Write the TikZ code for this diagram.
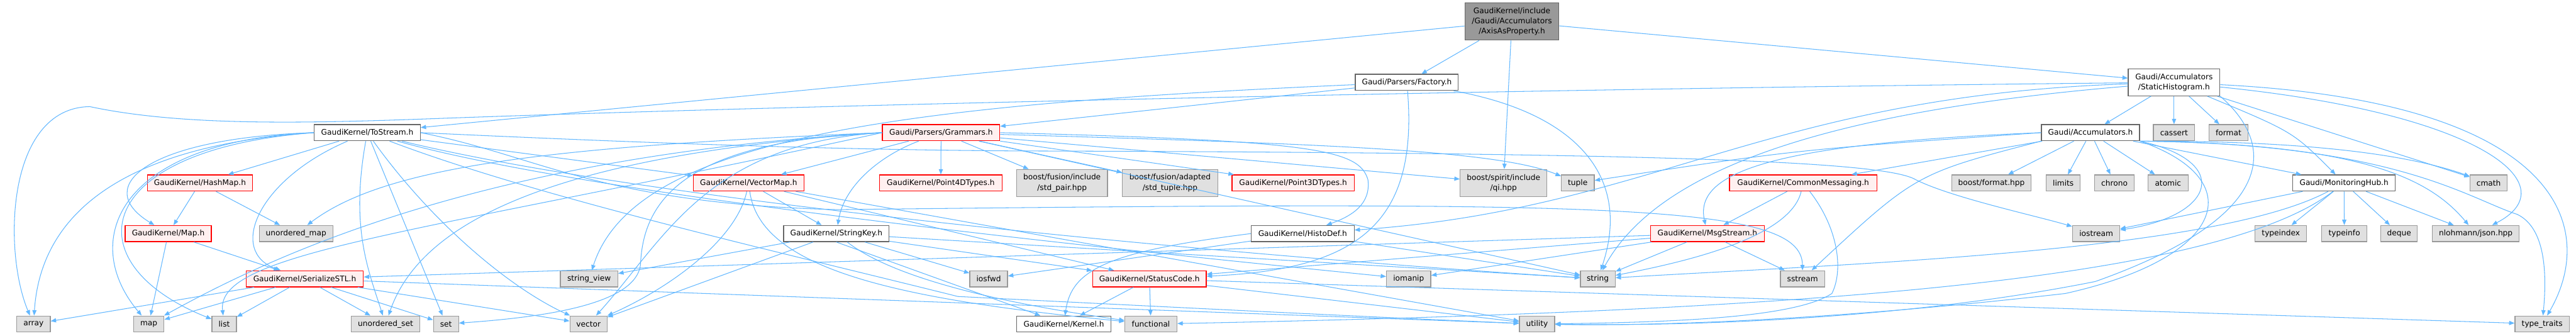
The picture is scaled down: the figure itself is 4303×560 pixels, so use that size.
\documentclass[tikz,border=0pt]{standalone}
\usepackage{fontspec}
\setmainfont{DejaVu Sans}
\usetikzlibrary{arrows.meta}
\definecolor{incBlue}{HTML}{63B8FF}
\definecolor{boxGray}{HTML}{666666}
\definecolor{edgeSys}{HTML}{999999}
\definecolor{fillSys}{HTML}{E0E0E0}
\definecolor{boxRed}{HTML}{FF0000}
\definecolor{fillRed}{HTML}{FFF0F0}
\definecolor{fillRoot}{HTML}{999999}

\begin{document}
\begin{tikzpicture}[
  x=1pt, y=-1pt,
  hbox/.style={
    draw=#1, line width=1.3pt,
    minimum height=27pt, inner sep=0pt,
    align=center, font=\fontsize{12.8}{17}\selectfont
  },
  plainbox/.style={hbox=boxGray, fill=white},
  redbox/.style={hbox=boxRed, fill=fillRed},
  sysbox/.style={hbox=edgeSys, fill=fillSys},
  rootbox/.style={hbox=boxGray, fill=fillRoot},
  wd/.style={minimum width=#1pt},
  two/.style={minimum height=45pt},
  inc/.style={-{Triangle[length=9pt, width=7pt]}, draw=incBlue, line width=1.1pt}
]
\path[use as bounding box, fill=white] (0,0) rectangle (4303,560);

%% ═══ ROOT ═══
\node[rootbox, wd=157, minimum height=62pt] (axis) at (2525.5,36)
  {GaudiKernel/include\\/Gaudi/Accumulators\\/AxisAsProperty.h};

%% ═══ LEVEL 1 ═══
\node[plainbox, wd=172] (factory) at (2350,137.5) {Gaudi/Parsers/Factory.h};
\node[plainbox, wd=153, two] (stathist) at (3631.5,137.5)
  {Gaudi/Accumulators\\/StaticHistogram.h};

%% ═══ LEVEL 2 ═══
\node[plainbox, wd=177] (tostream) at (613.5,221.5) {GaudiKernel/ToStream.h};
\node[redbox, wd=196] (grammars) at (1572,221.5) {Gaudi/Parsers/Grammars.h};
\node[plainbox, wd=164] (accum) at (3492,221.5) {Gaudi/Accumulators.h};
\node[sysbox, wd=69] (cassert) at (3631.5,221.5) {cassert};
\node[sysbox, wd=65] (format) at (3722.5,221.5) {format};

%% ═══ LEVEL 3 ═══
\node[redbox, wd=176] (hashmap) at (334,305.5) {GaudiKernel/HashMap.h};
\node[redbox, wd=185] (vectormap) at (1250.5,305.5) {GaudiKernel/VectorMap.h};
\node[redbox, wd=205] (point4d) at (1571.5,305.5) {GaudiKernel/Point4DTypes.h};
\node[sysbox, wd=152, two] (stdpair) at (1774,305.5)
  {boost/fusion/include\\/std\_pair.hpp};
\node[sysbox, wd=159, two] (stdtuple) at (1954.5,305.5)
  {boost/fusion/adapted\\/std\_tuple.hpp};
\node[redbox, wd=204] (point3d) at (2160,305.5) {GaudiKernel/Point3DTypes.h};
\node[sysbox, wd=145, two] (qi) at (2511.5,305.5) {boost/spirit/include\\/qi.hpp};
\node[sysbox, wd=55] (tuple) at (2635.5,305.5) {tuple};
\node[redbox, wd=246] (commonmsg) at (3012,305.5) {GaudiKernel/CommonMessaging.h};
\node[sysbox, wd=133] (bformat) at (3326.5,305.5) {boost/format.hpp};
\node[sysbox, wd=57] (limits) at (3446.5,305.5) {limits};
\node[sysbox, wd=66] (chrono) at (3532,305.5) {chrono};
\node[sysbox, wd=67] (atomic) at (3621.5,305.5) {atomic};
\node[plainbox, wd=171] (monhub) at (3915.5,305.5) {Gaudi/MonitoringHub.h};
\node[sysbox, wd=62] (cmath) at (4157,305.5) {cmath};

%% ═══ LEVEL 4 ═══
\node[redbox, wd=144] (maph) at (281,390) {GaudiKernel/Map.h};
\node[sysbox, wd=123] (umap) at (494.5,390) {unordered\_map};
\node[plainbox, wd=176] (stringkey) at (1397,390) {GaudiKernel/StringKey.h};
\node[plainbox, wd=172] (histodef) at (2176,390) {GaudiKernel/HistoDef.h};
\node[redbox, wd=190] (msgstream) at (2852,390) {GaudiKernel/MsgStream.h};
\node[sysbox, wd=79] (iostream) at (3501.5,390) {iostream};
\node[sysbox, wd=86] (typeindex) at (3810,390) {typeindex};
\node[sysbox, wd=76] (typeinfo) at (3916,390) {typeinfo};
\node[sysbox, wd=61] (deque) at (4007.5,390) {deque};
\node[sysbox, wd=145] (json) at (4135.5,390) {nlohmann/json.hpp};

%% ═══ LEVEL 5 ═══
\node[redbox, wd=196] (serialize) at (509,465.5) {GaudiKernel/SerializeSTL.h};
\node[sysbox, wd=96] (strview) at (984,465.5) {string\_view};
\node[sysbox, wd=63] (iosfwd) at (1651.5,465.5) {iosfwd};
\node[redbox, wd=190] (statuscode) at (1920,465.5) {GaudiKernel/StatusCode.h};
\node[sysbox, wd=74] (iomanip) at (2353,465.5) {iomanip};
\node[sysbox, wd=58] (str) at (2669,465.5) {string};
\node[sysbox, wd=74] (sstream) at (3011,465.5) {sstream};

%% ═══ LEVEL 6 ═══
\node[sysbox, wd=56] (array) at (56,541) {array};
\node[sysbox, wd=51] (map) at (248.5,541) {map};
\node[sysbox, wd=41] (list) at (374.5,541) {list};
\node[sysbox, wd=114] (uset) at (644,541) {unordered\_set};
\node[sysbox, wd=42] (set) at (745,541) {set};
\node[sysbox, wd=62] (vector) at (983,541) {vector};
\node[plainbox, wd=158] (kernel) at (1777,541) {GaudiKernel/Kernel.h};
\node[sysbox, wd=87] (functional) at (1922.5,541) {functional};
\node[sysbox, wd=59] (utility) at (2567.5,541) {utility};
\node[sysbox, wd=91] (typetraits) at (4246.5,541) {type\_traits};

%% ═══ root includes ═══
\draw[inc] (axis) -- (factory);
\draw[inc] (axis) -- (qi);
\draw[inc] (axis) -- (stathist);
\draw[inc] (axis) -- (tostream);

%% ═══ Factory.h ═══
\draw[inc] (factory) -- (grammars);
\draw[inc] (factory) .. controls (1500,175) and (1060,230) .. (strview);
\draw[inc] (factory) .. controls (2370,380) and (2260,450) .. (statuscode);
\draw[inc] (factory) .. controls (2640,190) and (2725,300) .. (str);

%% ═══ StaticHistogram.h ═══
\draw[inc] (stathist) -- (accum);
\draw[inc] (stathist) -- (cassert);
\draw[inc] (stathist) -- (format);
\draw[inc] (stathist) .. controls (3830,220) .. (monhub);
\draw[inc] (stathist) -- (cmath);
\draw[inc] (stathist) .. controls (4150,190) and (4290,310) .. (json);
\draw[inc] (stathist) .. controls (4280,170) and (4340,380) .. (typetraits);
\draw[inc] (stathist) .. controls (2950,160) and (2760,350) .. (histodef);
\draw[inc] (stathist) .. controls (3000,190) and (2760,300) .. (str);
\draw[inc] (stathist) .. controls (2400,150) and (1200,180) .. (700,199)
  .. controls (500,206) and (300,210) .. (150,178)
  .. controls (10,180) and (5,420) .. (array);
\draw[inc] (stathist.south east) .. controls (3800,240) and (3810,360) .. (3500,470)
  .. controls (3200,530) and (2850,545) .. (utility);

%% ═══ ToStream.h ═══
\draw[inc] (tostream) -- (hashmap);
\draw[inc] (tostream.west) .. controls (250,230) and (150,310) .. (maph);
\draw[inc] (tostream.west) .. controls (250,240) and (70,330) .. (array);
\draw[inc] (tostream.west) .. controls (200,235) and (130,400) .. (map);
\draw[inc] (tostream.west) .. controls (150,250) and (120,440) .. (list);
\draw[inc] (tostream) .. controls (430,300) and (380,420) .. (serialize);
\draw[inc] (tostream) .. controls (585,380) and (615,450) .. (uset);
\draw[inc] (tostream) -- (set);
\draw[inc] (tostream) .. controls (720,370) and (850,480) .. (vector);
\draw[inc] (tostream) -- (vectormap);
\draw[inc] (tostream) .. controls (1000,330) and (1900,420) .. (iomanip);
\draw[inc] (tostream) .. controls (1100,340) and (2100,430) .. (str);
\draw[inc] (tostream.east) .. controls (900,260) and (1000,340) .. (1400,350)
  .. controls (2700,335) and (3010,340) .. (sstream);
\draw[inc] (tostream.east) .. controls (1100,240) and (1400,250) .. (1700,252)
  .. controls (2800,255) and (3150,270) .. (3200,300)
  .. controls (3260,330) and (3400,360) .. (iostream);
\draw[inc] (tostream) .. controls (900,330) and (1300,420) .. (1600,495)
  .. controls (1900,510) and (2300,530) .. (utility);

%% ═══ Grammars.h ═══
\draw[inc] (grammars) -- (point4d);
\draw[inc] (grammars) -- (stdpair);
\draw[inc] (grammars) -- (stdtuple);
\draw[inc] (grammars) -- (point3d);
\draw[inc] (grammars) -- (qi);
\draw[inc] (grammars) .. controls (2200,240) and (2500,250) .. (tuple);
\draw[inc] (grammars) .. controls (1470,260) and (1410,310) .. (stringkey);
\draw[inc] (grammars) -- (vectormap);
\draw[inc] (grammars.east) .. controls (2200,235) and (2270,250) .. (2285,300)
  .. controls (2290,340) and (2260,360) .. (histodef);
\draw[inc] (grammars) -- (str);
\draw[inc] (grammars.west) .. controls (900,245) and (640,280) .. (umap);
\draw[inc] (grammars.west) .. controls (900,260) and (700,380) .. (uset);
\draw[inc] (grammars.west) .. controls (800,260) and (450,430) .. (map);
\draw[inc] (grammars.west) .. controls (700,390) and (360,420) .. (list);
\draw[inc] (grammars.west) .. controls (1150,235) and (1075,330) .. (1070,440)
  .. controls (1065,510) and (900,530) .. (set);
\draw[inc] (grammars.west) .. controls (1180,240) and (1110,400) .. (vector);

%% ═══ VectorMap.h ═══
\draw[inc] (vectormap) -- (stringkey);
\draw[inc] (vectormap) .. controls (1230,400) and (1120,480) .. (vector);
\draw[inc] (vectormap) .. controls (1270,450) and (1500,500) .. (functional);
\draw[inc] (vectormap) -- (statuscode);
\draw[inc] (vectormap) -- (utility);

%% ═══ StringKey.h / HistoDef.h ═══
\draw[inc] (stringkey) -- (strview);
\draw[inc] (stringkey) -- (vector);
\draw[inc] (stringkey) -- (iosfwd);
\draw[inc] (stringkey.south) -- (kernel);
\draw[inc] (stringkey) -- (str);
\draw[inc] (stringkey) -- (statuscode);
\draw[inc] (stringkey) .. controls (1500,470) and (1700,510) .. (functional);
\draw[inc] (histodef) -- (iosfwd);
\draw[inc] (histodef.west) .. controls (1850,420) and (1790,450) .. (kernel);
\draw[inc] (histodef) -- (str);

%% ═══ StatusCode.h ═══
\draw[inc] (statuscode) -- (kernel);
\draw[inc] (statuscode) -- (functional);
\draw[inc] (statuscode) -- (typetraits);
\draw[inc] (statuscode) -- (utility);

%% ═══ MsgStream.h / CommonMessaging.h ═══
\draw[inc] (msgstream) -- (statuscode);
\draw[inc] (msgstream) -- (iomanip);
\draw[inc] (msgstream) -- (str);
\draw[inc] (msgstream) -- (sstream);
\draw[inc] (msgstream) -- (serialize);
\draw[inc] (commonmsg) -- (msgstream);
\draw[inc] (commonmsg) .. controls (2990,400) and (2800,440) .. (str);
\draw[inc] (commonmsg) .. controls (3070,380) and (3080,450) .. (3060,490)
  .. controls (3000,530) and (2800,538) .. (utility);

%% ═══ Accumulators.h ═══
\draw[inc] (accum) -- (commonmsg);
\draw[inc] (accum.west) .. controls (2950,240) and (2830,290) .. (msgstream);
\draw[inc] (accum.south west) .. controls (3200,290) .. (sstream);
\draw[inc] (accum.west) .. controls (3000,250) .. (tuple);
\draw[inc] (accum) -- (bformat);
\draw[inc] (accum) -- (limits);
\draw[inc] (accum) -- (chrono);
\draw[inc] (accum) -- (atomic);
\draw[inc] (accum) -- (monhub);
\draw[inc] (accum.south east) .. controls (3800,235) and (4000,250) .. (cmath);
\draw[inc] (accum.south east) .. controls (3950,240) and (4060,300) .. (json);
\draw[inc] (accum.south east) .. controls (4000,240) and (4120,330) .. (4205,358)
  .. controls (4250,380) and (4255,450) .. (typetraits);
\draw[inc] (accum.south east) .. controls (3730,270) and (3700,360) .. (iostream);
\draw[inc] (accum.south east) .. controls (3760,300) and (3720,430) .. (3450,490)
  .. controls (3100,530) and (2800,545) .. (utility);

%% ═══ MonitoringHub.h ═══
\draw[inc] (monhub) -- (iostream);
\draw[inc] (monhub) -- (typeindex);
\draw[inc] (monhub) -- (typeinfo);
\draw[inc] (monhub) -- (deque);
\draw[inc] (monhub) -- (json);
\draw[inc] (monhub) .. controls (3700,420) and (3100,440) .. (str);
\draw[inc] (monhub) .. controls (3700,470) and (3000,520) .. (functional);

%% ═══ HashMap.h / Map.h / SerializeSTL.h ═══
\draw[inc] (hashmap) -- (maph);
\draw[inc] (hashmap) -- (umap);
\draw[inc] (maph) -- (map);
\draw[inc] (maph) -- (serialize);
\draw[inc] (serialize) -- (array);
\draw[inc] (serialize) -- (map);
\draw[inc] (serialize) -- (list);
\draw[inc] (serialize) -- (uset);
\draw[inc] (serialize) -- (set);
\draw[inc] (serialize) -- (vector);
\draw[inc] (serialize) -- (utility);

\end{tikzpicture}
\end{document}
